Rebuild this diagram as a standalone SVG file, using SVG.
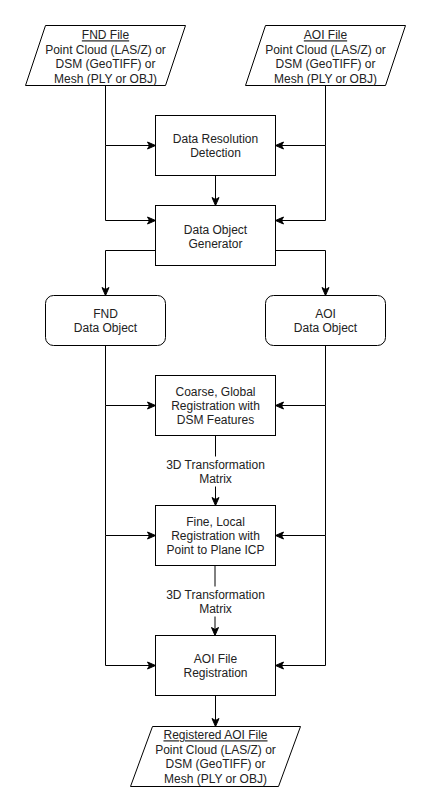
<svg xmlns="http://www.w3.org/2000/svg" width="431" height="811" viewBox="0 0 431 811">
<defs>
<style>
.box{fill:#fff;stroke:#000;stroke-width:1}
.t{font-family:"Liberation Sans",Arial,sans-serif;font-size:12px;fill:#222;text-anchor:middle}
.u{text-decoration:underline}
.e{fill:none;stroke:#000;stroke-width:1}
</style>
<marker id="a" markerUnits="userSpaceOnUse" markerWidth="10" markerHeight="10" viewBox="0 0 10 10" refX="9" refY="5" orient="auto">
<path d="M1,1.5 L9,5 L1,8.5 L3,5 Z" fill="#000" stroke="#000" stroke-width="1"/>
</marker>
</defs>
<rect width="431" height="811" fill="#fff"/>
<g transform="translate(0.5,0.5)">
<g id="connectors">
<path class="e" d="M105,85 V145 H155" marker-end="url(#a)"/>
<path class="e" d="M105,145 V220 H155" marker-end="url(#a)"/>
<path class="e" d="M325,85 V145 H275" marker-end="url(#a)"/>
<path class="e" d="M325,145 V220 H275" marker-end="url(#a)"/>
<path class="e" d="M215,175 V205" marker-end="url(#a)"/>
<path class="e" d="M155,250 H105 V295" marker-end="url(#a)"/>
<path class="e" d="M275,250 H325 V295" marker-end="url(#a)"/>
<path class="e" d="M105,345 V405 H155" marker-end="url(#a)"/>
<path class="e" d="M105,405 V535 H155" marker-end="url(#a)"/>
<path class="e" d="M105,535 V665 H155" marker-end="url(#a)"/>
<path class="e" d="M325,345 V405 H275" marker-end="url(#a)"/>
<path class="e" d="M325,405 V535 H275" marker-end="url(#a)"/>
<path class="e" d="M325,535 V665 H275" marker-end="url(#a)"/>
<path class="e" d="M215,435 V505" marker-end="url(#a)"/>
<path class="e" d="M214.5,565 V635" marker-end="url(#a)"/>
<path class="e" d="M215,695 V726" marker-end="url(#a)"/>
<g id="label1">
<rect x="163" y="456" width="104" height="30" fill="#fff"/>
<text class="t" x="215" y="468.8">3D Transformation</text>
<text class="t" x="215" y="482.8">Matrix</text>
</g>
<g id="label2">
<rect x="163" y="586" width="104" height="30" fill="#fff"/>
<text class="t" x="215" y="598.8">3D Transformation</text>
<text class="t" x="215" y="612.8">Matrix</text>
</g>
</g>
<g id="fnd-file">
<polygon class="box" points="45,25 185,25 165,85 25,85"/>
<text class="t u" x="105" y="38.8">FND File</text>
<text class="t" x="105" y="53.3">Point Cloud (LAS/Z) or</text>
<text class="t" x="105" y="67.8">DSM (GeoTIFF) or</text>
<text class="t" x="105" y="82.3">Mesh (PLY or OBJ)</text>
</g>
<g id="aoi-file">
<polygon class="box" points="265,25 405,25 385,85 245,85"/>
<text class="t u" x="325" y="38.8">AOI File</text>
<text class="t" x="325" y="53.3">Point Cloud (LAS/Z) or</text>
<text class="t" x="325" y="67.8">DSM (GeoTIFF) or</text>
<text class="t" x="325" y="82.3">Mesh (PLY or OBJ)</text>
</g>
<g id="data-resolution">
<rect class="box" x="155" y="115" width="120" height="60"/>
<text class="t" x="215" y="142.5">Data Resolution</text>
<text class="t" x="215" y="156.5">Detection</text>
</g>
<g id="generator">
<rect class="box" x="155" y="205" width="120" height="60"/>
<text class="t" x="215" y="233">Data Object</text>
<text class="t" x="215" y="247">Generator</text>
</g>
<g id="fnd-object">
<rect class="box" x="45" y="295" width="120" height="50" rx="8" ry="8"/>
<text class="t" x="105" y="317.5">FND</text>
<text class="t" x="105" y="331.5">Data Object</text>
</g>
<g id="aoi-object">
<rect class="box" x="265" y="295" width="120" height="50" rx="8" ry="8"/>
<text class="t" x="325" y="317.5">AOI</text>
<text class="t" x="325" y="331.5">Data Object</text>
</g>
<g id="coarse">
<rect class="box" x="155" y="375" width="120" height="60"/>
<text class="t" x="215" y="395.5">Coarse, Global</text>
<text class="t" x="215" y="409.5">Registration with</text>
<text class="t" x="215" y="423.5">DSM Features</text>
</g>
<g id="fine">
<rect class="box" x="155" y="505" width="120" height="60"/>
<text class="t" x="215" y="525.5">Fine, Local</text>
<text class="t" x="215" y="539.5">Registration with</text>
<text class="t" x="215" y="553.5">Point to Plane ICP</text>
</g>
<g id="aoi-registration">
<rect class="box" x="155" y="635" width="120" height="60"/>
<text class="t" x="215" y="662.5">AOI File</text>
<text class="t" x="215" y="676.5">Registration</text>
</g>
<g id="registered-file">
<polygon class="box" points="152,726 300,726 278,786 130,786"/>
<text class="t u" x="215" y="738.8">Registered AOI File</text>
<text class="t" x="215" y="753.3">Point Cloud (LAS/Z) or</text>
<text class="t" x="215" y="767.8">DSM (GeoTIFF) or</text>
<text class="t" x="215" y="782.3">Mesh (PLY or OBJ)</text>
</g>
</g>
</svg>
